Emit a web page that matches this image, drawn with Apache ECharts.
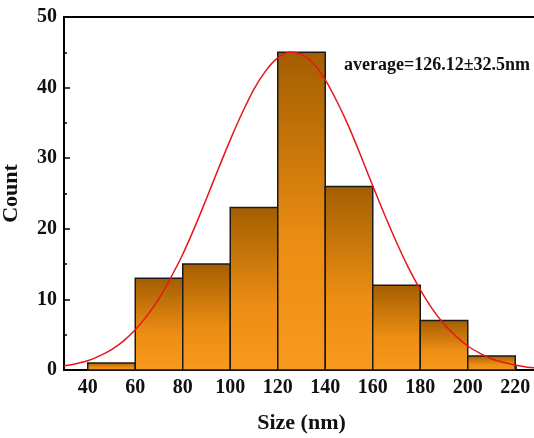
<!DOCTYPE html>
<html>
<head>
<meta charset="utf-8">
<script src="https://cdn.jsdelivr.net/npm/echarts@6/dist/echarts.min.js"></script>
<style>
  html, body { margin: 0; padding: 0; background: #fff; }
  #main { width: 534px; height: 438px; }
</style>
</head>
<body>
<div id="main"></div>
<script>
// histogram bins (nm) and counts
var binStart = [40, 60, 80, 100, 120, 140, 160, 180, 200];
var binEnd = [60, 80, 100, 120, 140, 160, 180, 200, 220];
var counts = [1, 13, 15, 23, 45, 26, 12, 7, 2];

// fitted normal curve
var fitX = [30, 35, 40, 45, 50, 55, 60, 65, 70, 75, 80, 85, 90, 95, 100, 105, 110, 115, 120, 125,
            130, 135, 140, 145, 150, 155, 160, 165, 170, 175, 180, 185, 190, 195, 200, 205, 210, 215, 220, 225, 230];
var fitY = [0.6, 0.9, 1.3, 2.0, 2.9, 4.1, 5.7, 7.7, 10.1, 13.1, 16.4, 20.2, 24.3, 28.5, 32.6, 36.4, 39.8, 42.4, 44.2, 45.0,
            44.7, 43.4, 41.1, 38.0, 34.4, 30.3, 26.1, 22.0, 18.1, 14.5, 11.4, 8.7, 6.5, 4.8, 3.4, 2.4, 1.6, 1.1, 0.7, 0.4, 0.3];

var xLabels = [40, 60, 80, 100, 120, 140, 160, 180, 200, 220];
var note = "average=126.12\u00b132.5nm";

var font = "Liberation Serif";
var chart = echarts.init(document.getElementById("main"));

var barData = [];
for (var i = 0; i < counts.length; i++) {
  barData.push([binStart[i], binEnd[i], counts[i]]);
}
var fitData = [];
for (var j = 0; j < fitX.length; j++) {
  fitData.push([fitX[j], fitY[j]]);
}

function renderBar(params, api) {
  var p0 = api.coord([api.value(0), api.value(2)]);
  var p1 = api.coord([api.value(1), 0]);
  return {
    type: "rect",
    shape: { x: p0[0], y: p0[1], width: p1[0] - p0[0], height: p1[1] - p0[1] },
    style: {
      fill: new echarts.graphic.LinearGradient(0, 0, 0, 1, [
        { offset: 0, color: "#a35e00" },
        { offset: 0.6, color: "#ec8d14" },
        { offset: 1, color: "#f89a1e" }
      ]),
      stroke: "#1a1a1a",
      lineWidth: 1.5
    }
  };
}

var option = {
  animation: false,
  backgroundColor: "#fff",
  grid: { left: 64, top: 17, right: -5, bottom: 68, outerBoundsMode: "none" },
  xAxis: [
    {
      type: "value",
      min: 30,
      max: 230,
      interval: 10,
      name: "Size (nm)",
      nameLocation: "middle",
      nameGap: 42,
      nameTextStyle: { fontFamily: font, fontWeight: "bold", fontSize: 22, color: "#111" },
      axisLine: { show: true, lineStyle: { color: "#000", width: 2 } },
      axisTick: { show: true, inside: true, length: 4, lineStyle: { color: "#000", width: 1.5 } },
      axisLabel: {
        customValues: xLabels,
        margin: 8,
        fontFamily: font, fontWeight: "bold", fontSize: 20, color: "#111"
      },
      splitLine: { show: false }
    },
    {
      type: "value",
      position: "top",
      min: 30,
      max: 230,
      axisLine: { show: true, onZero: false, lineStyle: { color: "#000", width: 2 } },
      axisTick: { show: false },
      axisLabel: { show: false },
      splitLine: { show: false }
    }
  ],
  yAxis: {
    type: "value",
    min: 0,
    max: 50,
    interval: 10,
    name: "Count",
    nameLocation: "middle",
    nameGap: 42,
    nameTextStyle: { fontFamily: font, fontWeight: "bold", fontSize: 22, color: "#111" },
    axisLine: { show: true, lineStyle: { color: "#000", width: 2 } },
    axisTick: { show: true, inside: true, length: 6, lineStyle: { color: "#000", width: 1.5 } },
    minorTick: { show: true, splitNumber: 2, length: 3, lineStyle: { color: "#000", width: 1.5 } },
    axisLabel: { margin: 7, fontFamily: font, fontWeight: "bold", fontSize: 20, color: "#111" },
    splitLine: { show: false }
  },
  graphic: [
    {
      type: "text",
      left: 344,
      top: 56,
      style: { text: note, fontFamily: font, fontWeight: "bold", fontSize: 18, fill: "#111" }
    }
  ],
  series: [
    {
      type: "custom",
      renderItem: renderBar,
      encode: { x: [0, 1], y: 2 },
      data: barData,
      z: 2
    },
    {
      type: "line",
      data: fitData,
      smooth: 0.3,
      showSymbol: false,
      lineStyle: { color: "#e8151b", width: 1.5 },
      z: 3
    }
  ]
};
chart.setOption(option);
</script>
</body>
</html>
